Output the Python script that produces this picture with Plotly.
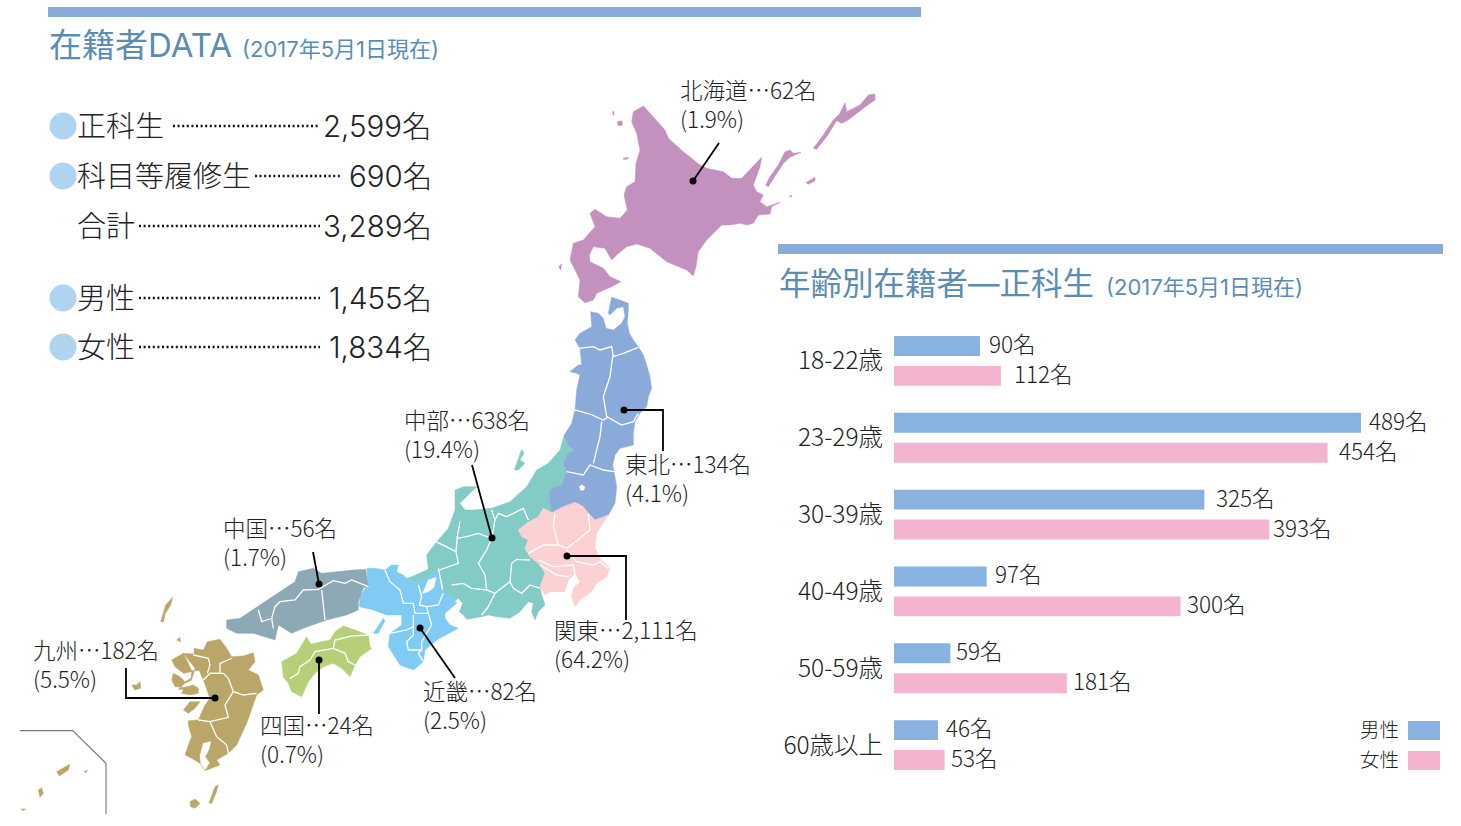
import plotly.graph_objects as go

# ---------- DATA ----------
age_groups = ["18-22歳", "23-29歳", "30-39歳", "40-49歳", "50-59歳", "60歳以上"]
male_counts = [90, 489, 325, 97, 59, 46]
female_counts = [112, 454, 393, 300, 181, 53]
male_label_gap = [9, 8, 12, 8, 6, 8]
female_label_gap = [13, 11, 4, 6, 6, 6]

summary_names = ["正科生", "科目等履修生", "合計", "男性", "女性"]
summary_values = ["2,599名", "690名", "3,289名", "1,455名", "1,834名"]
summary_y = [126, 176, 226, 298, 347]
summary_bullet = [True, True, False, True, True]
summary_dots = [(173, 320), (255, 341), (139, 320), (139, 320), (139, 320)]

region_line1 = ["北海道…62名", "中部…638名", "東北…134名", "中国…56名", "関東…2,111名", "九州…182名", "近畿…82名", "四国…24名"]
region_line2 = ["(1.9%)", "(19.4%)", "(4.1%)", "(1.7%)", "(64.2%)", "(5.5%)", "(2.5%)", "(0.7%)"]
region_label_x = [681, 405, 626, 224, 555, 34, 424, 261]
region_label_y = [92, 422, 466, 530, 632, 652, 693, 727]

# Map outlines in three crop frames
HOKKAIDO = [(280,125),(310,108),(330,130),(375,180),(385,205),(430,245),(480,285),(500,295),(550,305),(575,325),(605,325),(640,290),(665,262),(660,290),(640,345),(650,365),(670,375),(660,395),(680,410),(720,397),(695,410),(690,432),(655,435),(640,460),(620,465),(600,460),(570,465),(545,465),(500,510),(475,545),(468,590),(460,618),(440,600),(380,575),(330,535),(290,522),(260,530),(230,555),(215,570),(195,535),(160,530),(148,555),(150,575),(190,595),(210,620),(243,635),(215,650),(170,670),(160,690),(135,698),(115,680),(120,630),(90,570),(100,520),(130,510),(165,470),(150,430),(165,418),(200,440),(240,445),(262,420),(252,375),(260,350),(285,335),(288,280),(300,240),(290,190),(275,155)]
HOKKAIDO_ISLES = [
    [(232,155),(245,152),(248,165),(235,167)], [(218,125),(222,124),(222,136),(219,135)],
    [(250,265),(265,262),(262,268),(250,268)], [(56,590),(65,582),(62,600)],
    [(677,345),(690,320),(715,285),(735,245),(750,240),(760,250),(783,247),(750,262),(730,280),(700,325),(685,350)],
    [(820,235),(850,195),(880,150),(900,130),(915,98),(920,125),(960,105),(985,75),(1005,72),(1005,90),(970,115),(925,150),(905,160),(890,152),(860,200),(830,238)],
    [(798,338),(825,322),(825,332),(805,343)], [(748,378),(755,376),(754,382)],
]
TOHOKU = [(565,70),(575,22),(600,30),(625,40),(625,60),(622,100),(628,130),(640,150),(655,170),(670,195),(680,225),(690,260),(695,295),(685,320),(680,350),(660,370),(645,395),(640,430),(640,465),(600,475),(585,495),(578,525),(583,550),(590,590),(585,640),(565,675),(525,690),(505,670),(475,640),(455,645),(395,668),(387,610),(395,595),(425,585),(440,545),(430,520),(445,490),(462,480),(445,465),(430,440),(455,400),(465,360),(470,300),(480,255),(470,250),(450,245),(475,225),(485,225),(480,175),(465,150),(480,130),(515,110),(512,65),(535,70),(550,85),(558,115),(580,120),(605,100),(615,80),(610,50),(590,55),(570,75)]
TOHOKU_BORDERS = [
    [(478,175),(520,170),(540,180),(575,170),(580,200),(610,190),(655,172)],
    [(578,200),(570,260),(550,320),(560,380)],
    [(465,360),(510,372),(550,390),(565,380)],
    [(560,380),(605,405),(640,395),(655,370)],
    [(545,395),(540,440),(520,520)],
    [(440,545),(490,555),(510,525),(550,540),(583,545)],
]
INAWASHIRO = [(478,590),(485,584),(494,590),(492,600),(482,601)]
SADO = [(283,540),(305,478),(312,490),(300,510),(315,520),(295,540)]
CHUBU_NORTH = [(430,445),(445,465),(462,480),(445,490),(430,520),(440,545),(425,585),(395,595),(387,610),(395,668),(370,655),(355,680),(320,700),(295,720),(305,740),(325,750),(315,775),(330,800),(360,825),(375,850),(360,890),(365,915)]
CHUBU_SOUTH = [(585,315),(565,335),(555,360),(545,335),(550,310),(535,305),(510,335),(480,355),(440,350),(415,345),(395,350),(350,358),(340,345),(328,335),(338,310),(325,295),(312,305),(305,290),(278,270),(275,240),(265,210),(248,215),(240,230),(200,250),(170,235),(190,228),(235,208),(230,165)]
CHUBU_COAST = [(50,755),(85,715),(105,660),(105,600),(130,590),(170,590),(135,625),(120,640),(135,660),(160,660),(215,655),(270,635),(320,590),(350,540),(385,520),(420,480)]
CHUBU_BORDERS = [
    [(330,65),(322,110),(318,155),(325,190),(268,210)], [(258,125),(290,140),(318,155)],
    [(322,115),(350,110),(385,100),(425,115)], [(425,115),(410,150),(385,190),(405,225),(410,270)],
    [(305,255),(340,250),(365,265),(410,270),(435,280)], [(265,205),(278,270)],
    [(425,115),(435,60),(425,30)], [(435,60),(445,40),(470,50),(520,25),(535,60)],
    [(435,280),(415,320),(395,345)], [(435,280),(480,245),(490,265),(515,280),(540,255),(570,265)],
    [(480,245),(485,190),(500,178),(540,180)],
]
KANTO = [(395,668),(430,650),(465,637),(490,650),(505,670),(525,690),(565,675),(530,730),(525,770),(535,800),(570,835),(560,860),(530,880),(515,905),(480,930),(465,950),(455,920),(460,895),(480,875),(465,850),(445,870),(435,905),(410,905),(390,905),(375,915),(360,890),(375,850),(360,825),(330,800),(315,775),(325,750),(305,740),(295,720),(320,700),(355,680),(370,655)]
KANTO_BORDERS = [
    [(405,670),(400,710),(415,765)], [(505,670),(510,720),(480,745),(440,775)],
    [(325,790),(370,765),(415,765),(440,775)], [(355,810),(400,830),(460,825)],
    [(360,825),(410,855),(445,860)], [(440,780),(470,815),(520,825),(540,815),(565,835)],
    [(460,825),(465,850)],
]
KINKI = [(50,205),(55,250),(30,290),(28,320),(70,330),(110,345),(155,345),(155,375),(120,400),(115,440),(150,495),(190,510),(220,485),(225,450),(260,420),(325,385),(300,375),(285,355),(285,340),(320,310),(305,290),(278,270),(275,240),(265,210),(248,215),(240,230),(200,250),(170,235),(160,225),(140,215),(145,195),(125,195),(105,210),(75,205)]
AWAJI = [(70,400),(100,355),(105,362),(85,400)]
BIWA = [(218,280),(235,240),(258,232),(252,262),(235,275)]
KINKI_BORDERS = [
    [(105,210),(120,245),(150,270),(155,295),(160,310)], [(205,255),(215,290),(208,315)],
    [(160,310),(190,310),(195,340)], [(120,400),(170,390),(190,380)],
    [(195,340),(235,340),(245,375),(215,425),(215,450),(175,450),(170,425),(190,405),(190,345)],
    [(235,340),(230,320),(265,315),(280,280)], [(215,450),(205,460),(220,485)],
    [(208,315),(230,320)],
]
CHUGOKU = [(20,180),(60,175),(105,145),(150,115),(185,90),(225,65),(235,35),(280,25),(305,40),(345,35),(400,30),(437,28),(445,75),(430,85),(415,125),(415,150),(380,165),(320,180),(250,205),(215,220),(175,195),(165,240),(130,230),(100,220),(50,220),(20,205)]
CHUGOKU_BORDERS = [
    [(115,150),(125,185),(155,175),(165,140),(180,125),(225,120),(250,90),(295,88),(340,62),(375,70),(395,60),(445,80)],
    [(305,90),(315,180)], [(155,175),(160,205)],
]
SHIKOKU = [(185,305),(230,280),(245,255),(260,230),(272,252),(330,240),(345,215),(370,198),(405,210),(445,225),(450,260),(455,265),(420,290),(405,315),(390,350),(365,325),(340,310),(310,320),(285,340),(265,365),(245,410),(215,395),(205,370),(190,350)]
SHIKOKU_BORDERS = [
    [(210,355),(235,340),(240,320),(270,300),(285,275),(340,265),(375,280),(385,305),(405,315)],
    [(340,265),(345,240),(395,228),(445,225)],
]
KYUSHU = [(262,35),(300,28),(320,55),(335,80),(370,78),(400,68),(405,95),(385,120),(415,135),(430,180),(410,195),(380,280),(350,345),(325,370),(290,390),(300,405),(255,422),(240,400),(215,385),(195,375),(205,345),(215,320),(205,285),(205,272),(235,270),(255,225),(270,205),(258,170),(250,150),(238,122),(215,122),(205,100),(190,70),(222,72),(222,55),(250,60)]
NAGASAKI = [(190,70),(155,90),(165,110),(190,130),(215,125),(213,145),(195,155),(180,140),(160,130),(155,150),(165,170),(195,172),(220,165),(235,175),(235,190),(210,195),(185,190),(190,178),(175,178),(195,160),(215,150),(225,115)]
AMAKUSA = [(190,240),(210,215),(240,215),(225,235),(205,250)]
GOTO = [(35,165),(50,165),(60,155),(62,175),(45,180)]
KAGOSHIMA_BAY = [(240,378),(250,340),(272,335),(266,360),(255,380),(268,398),(255,420),(243,402)]
KYUSHU_BORDERS = [
    [(220,75),(265,85),(270,105),(262,130)], [(270,130),(300,130),(300,100),(335,85)],
    [(250,150),(270,130),(310,130),(325,145),(340,185)], [(340,185),(370,195),(410,190)],
    [(340,185),(315,225),(325,262),(270,275)], [(270,275),(290,320),(320,345),(325,370)],
    [(235,270),(270,275)],
]
TSUSHIMA = [(482,185),(490,160),(497,135),(518,112),(512,135),(495,162),(491,185)]
IKI = [(530,240),(540,232),(541,245)]
SOUTH_ISLES = [
    [(597,250),(615,200),(625,195),(618,220),(605,250)], [(540,245),(555,237),(570,250),(555,265),(542,260)],
    [(140,155),(165,142),(180,132),(175,150),(148,168)], [(85,210),(95,203),(100,220),(90,232)],
    [(222,155),(232,150),(228,158)], [(33,267),(47,267),(40,272)],
]
INSET_FRAME = [(30,32),(188,32),(288,130),(288,283)]

CALLOUTS = [
    [(719,143),(693,181)], [(663,451),(663,410),(624,410)], [(472,465),(492,538)],
    [(626,620),(626,556),(567,556)], [(455,678),(420,628)], [(313,552),(319,584)],
    [(319,714),(319,660)], [(126,668),(126,698),(215,698)],
]

# ---------- COLOURS ----------
C_RULE, C_TITLE, C_BULLET = "#88ABD8", "#5B8DB4", "#AFD4F0"
C_MALE, C_FEMALE = "#88B2E0", "#F4B4CF"
C_TEXT = "#222222"
FONT_CJK = "Noto Sans CJK JP, Noto Sans, sans-serif"
FONT = "Inter, " + FONT_CJK


def frame(ox, oy):
    return lambda pts: [(ox + a / 3, oy + b / 3) for a, b in pts]


z1, z2, z3, z7, z8, z9, z10 = frame(540, 70), frame(420, 290), frame(0, 560), frame(350, 500), frame(220, 560), frame(120, 630), frame(10, 720)

fig = go.Figure()


def fill(polys, color):
    xs, ys = [], []
    for p in polys:
        xs += [a for a, _ in p] + [p[0][0], None]
        ys += [b for _, b in p] + [p[0][1], None]
    fig.add_trace(go.Scatter(x=xs, y=ys, mode="lines", fill="toself", fillcolor=color,
                             line=dict(color=color, width=0.5), hoverinfo="skip", showlegend=False))


def lines(polys, color="white", width=1.3):
    xs, ys = [], []
    for p in polys:
        xs += [a for a, _ in p] + [None]
        ys += [b for _, b in p] + [None]
    fig.add_trace(go.Scatter(x=xs, y=ys, mode="lines", line=dict(color=color, width=width),
                             hoverinfo="skip", showlegend=False))


fill([z1(HOKKAIDO)] + [z1(p) for p in HOKKAIDO_ISLES], "#C490BD")
fill([z2(CHUBU_NORTH) + z7(CHUBU_SOUTH) + z2(CHUBU_COAST), z2(SADO)], "#83CBC5")
fill([z2(TOHOKU)], "#8AABD9")
fill([z2(KANTO)], "#FBD1D3")
fill([z7(KINKI), z7(AWAJI)], "#7FCBF4")
fill([z8(CHUGOKU)], "#8CA9B5")
fill([z8(SHIKOKU)], "#B7CF79")
fill([z9(KYUSHU), z9(NAGASAKI), z9(AMAKUSA), z9(GOTO), z3(TSUSHIMA), z3(IKI)] + [z10(p) for p in SOUTH_ISLES], "#BBA66A")
fill([z2(INAWASHIRO), z7(BIWA), z9(KAGOSHIMA_BAY)], "white")
lines([z2(p) for p in TOHOKU_BORDERS] + [z7(p) for p in CHUBU_BORDERS] + [z2(p) for p in KANTO_BORDERS]
      + [z7(p) for p in KINKI_BORDERS] + [z8(p) for p in CHUGOKU_BORDERS] + [z8(p) for p in SHIKOKU_BORDERS]
      + [z9(p) for p in KYUSHU_BORDERS])
lines([z10(INSET_FRAME)], "#777777", 1.1)

# callout leaders and dots
lines(CALLOUTS, "#000000", 1.8)
fig.add_trace(go.Scatter(x=[c[-1][0] for c in CALLOUTS], y=[c[-1][1] for c in CALLOUTS], mode="markers",
                         marker=dict(color="#000000", size=7), hoverinfo="skip", showlegend=False))

# summary bullets
fig.add_trace(go.Scatter(x=[63] * sum(summary_bullet), y=[y for y, b in zip(summary_y, summary_bullet) if b],
                         mode="markers", marker=dict(color=C_BULLET, size=27), hoverinfo="skip", showlegend=False))
# leader dots
for (a, b), y in zip(summary_dots, summary_y):
    fig.add_trace(go.Scatter(x=[a, b], y=[y, y], mode="lines",
                             line=dict(color="#111111", width=2.4, dash="2px,2.6px"), hoverinfo="skip", showlegend=False))

# bars
fig.add_trace(go.Bar(name="男性", y=age_groups, x=male_counts, orientation="h", marker=dict(color=C_MALE, line_width=0),
                     xaxis="x2", yaxis="y2", hoverinfo="skip", showlegend=False))
fig.add_trace(go.Bar(name="女性", y=age_groups, x=female_counts, orientation="h", marker=dict(color=C_FEMALE, line_width=0),
                     xaxis="x2", yaxis="y2", hoverinfo="skip", showlegend=False))

ann = []


def txt(x, y, s, size, color=C_TEXT, anchor="left", family=FONT, weight=300, dy=0):
    dx = -3 if anchor == "left" else 2
    ann.append(dict(x=x + dx, y=y + dy, xref="x", yref="y", text=s, showarrow=False, xanchor=anchor, yanchor="middle",
                    font=dict(family=family, size=size, color=color, weight=weight), align=anchor))


txt(50, 45, "在籍者DATA", 33, C_TITLE, weight=400)
txt(243, 49, "(2017年5月1日現在)", 22, C_TITLE, weight=400)
txt(780, 283, "年齢別在籍者―正科生", 31.5, C_TITLE, weight=400)
txt(1107, 287, "(2017年5月1日現在)", 22, C_TITLE, weight=400)

for name, val, y in zip(summary_names, summary_values, summary_y):
    txt(78, y, name, 29)
    txt(431.5, y, val, 29.5, anchor="right")

for a, b, x, y in zip(region_line1, region_line2, region_label_x, region_label_y):
    txt(x, y + 13, a + "<br>" + b, 22.5, family=FONT_CJK, dy=-2)

for cat, m, f, gm, gf in zip(age_groups, male_counts, female_counts, male_label_gap, female_label_gap):
    for v, gap, shift in ((m, gm, 18), (f, gf, -12)):
        ann.append(dict(x=v, y=cat, xref="x2", yref="y2", text=f"{v}名", showarrow=False, xanchor="left", yanchor="middle",
                        xshift=gap - 2, yshift=shift, font=dict(family=FONT_CJK, size=22.5, color=C_TEXT, weight=300)))

txt(1399, 730, "男性", 19.5, anchor="right")
txt(1399, 760, "女性", 19.5, anchor="right")

shapes = [
    dict(type="rect", xref="x", yref="y", x0=48, x1=921, y0=7, y1=17, fillcolor=C_RULE, line_width=0),
    dict(type="rect", xref="x", yref="y", x0=778, x1=1443, y0=244, y1=254, fillcolor=C_RULE, line_width=0),
    dict(type="rect", xref="x", yref="y", x0=1408, x1=1440, y0=721, y1=740, fillcolor=C_MALE, line_width=0),
    dict(type="rect", xref="x", yref="y", x0=1408, x1=1440, y0=751, y1=770, fillcolor=C_FEMALE, line_width=0),
]

W, H = 1461, 826
fig.update_layout(
    width=W, height=H, margin=dict(l=0, r=0, t=0, b=0), paper_bgcolor="white", plot_bgcolor="rgba(0,0,0,0)",
    showlegend=False, barmode="group", bargap=17 / 77, bargroupgap=1 / 3, annotations=ann, shapes=shapes,
    font=dict(family=FONT_CJK, color=C_TEXT),
    xaxis=dict(range=[0, W], domain=[0, 1], visible=False, fixedrange=True),
    yaxis=dict(range=[H, 0], domain=[0, 1], visible=False, fixedrange=True),
    xaxis2=dict(range=[0, 500], domain=[894 / W, (894 + 500 * 467 / 489) / W], anchor="y2", visible=False, fixedrange=True),
    yaxis2=dict(type="category", categoryorder="array", categoryarray=age_groups, autorange="reversed",
                domain=[1 - 783.5 / H, 1 - 322.5 / H], anchor="x2", showgrid=False, zeroline=False, showline=False,
                ticks="outside", ticklen=5, tickcolor="rgba(0,0,0,0)",
                tickfont=dict(family=FONT_CJK, size=24.5, color=C_TEXT, weight=300), fixedrange=True),
)

fig.write_html("out.html", config=dict(displayModeBar=False),
               post_script="document.body.style.margin='0';document.documentElement.style.overflow='hidden';")
